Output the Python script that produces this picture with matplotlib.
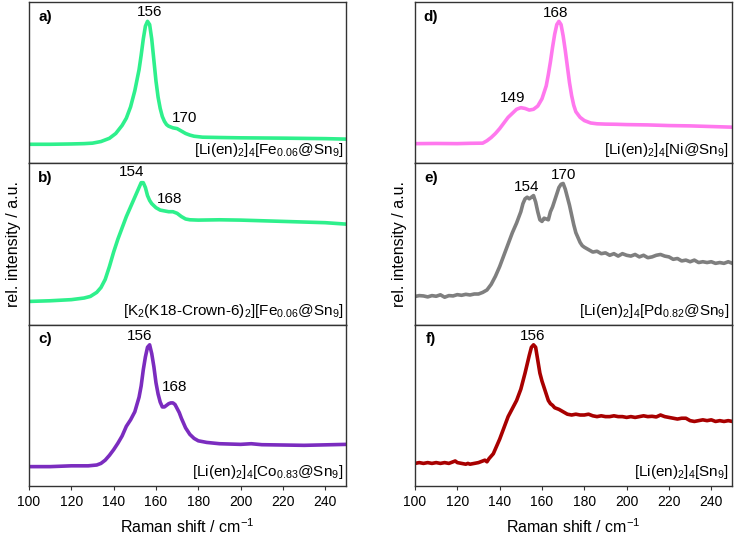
import matplotlib
matplotlib.use('Agg')
import matplotlib.pyplot as plt

plt.rcParams['font.family'] = ['Liberation Sans', 'DejaVu Sans']
plt.rcParams['mathtext.default'] = 'regular'

# Raman spectra, relative intensity
x_a = [100, 110, 120, 126, 130, 134, 138, 141, 144, 146, 148, 150, 152, 153, 154, 155, 156, 157, 158, 159,
       160, 161, 162, 163, 164, 165, 166, 168, 170, 172, 174, 176, 178, 182, 190, 200, 220, 240, 250]
y_a = [0.118, 0.118, 0.12, 0.122, 0.125, 0.135, 0.155, 0.185, 0.235, 0.28, 0.35, 0.45, 0.58, 0.67, 0.77, 0.85,
       0.88, 0.86, 0.77, 0.64, 0.51, 0.41, 0.34, 0.29, 0.26, 0.24, 0.23, 0.22, 0.215, 0.2, 0.185, 0.175, 0.168,
       0.162, 0.16, 0.158, 0.156, 0.153, 0.15]

x_b = [100, 110, 120, 126, 129, 132, 134, 136, 138, 140, 142, 144, 146, 148, 150, 152, 153, 154, 155, 156,
       157, 158, 160, 162, 164, 166, 168, 170, 172, 174, 176, 180, 190, 200, 220, 240, 250]
y_b = [0.144, 0.148, 0.155, 0.165, 0.175, 0.2, 0.23, 0.28, 0.36, 0.45, 0.53, 0.6, 0.67, 0.73, 0.79, 0.85, 0.88,
       0.88, 0.85, 0.8, 0.77, 0.75, 0.725, 0.71, 0.705, 0.7, 0.7, 0.69, 0.67, 0.655, 0.65, 0.648, 0.65, 0.648,
       0.64, 0.632, 0.623]

x_c = [100, 110, 120, 128, 132, 134, 136, 138, 140, 142, 144, 146, 148, 150, 152, 153, 154, 155, 156, 157,
       158, 159, 160, 161, 162, 163, 164, 165, 166, 167, 168, 169, 170, 171, 172, 174, 176, 178, 180, 184,
       190, 200, 205, 210, 220, 230, 240, 250]
y_c = [0.12, 0.12, 0.125, 0.125, 0.13, 0.14, 0.16, 0.19, 0.225, 0.265, 0.31, 0.37, 0.41, 0.46, 0.55, 0.62,
       0.72, 0.8, 0.86, 0.875, 0.82, 0.74, 0.64, 0.57, 0.52, 0.49, 0.49, 0.5, 0.51, 0.515, 0.515, 0.505, 0.48,
       0.455, 0.42, 0.36, 0.32, 0.295, 0.28, 0.27, 0.262, 0.258, 0.262, 0.256, 0.254, 0.252, 0.255, 0.258]

x_d = [100, 110, 120, 126, 132, 134, 136, 138, 140, 142, 144, 146, 148, 150, 152, 154, 156, 158, 160, 162,
       163, 164, 165, 166, 167, 168, 169, 170, 171, 172, 173, 174, 175, 176, 178, 180, 183, 186, 190, 195,
       200, 210, 220, 230, 240, 250]
y_d = [0.122, 0.123, 0.122, 0.124, 0.125, 0.14, 0.16, 0.185, 0.215, 0.25, 0.285, 0.31, 0.335, 0.345, 0.34,
       0.33, 0.335, 0.355, 0.4, 0.48, 0.55, 0.63, 0.72, 0.8, 0.86, 0.88, 0.86, 0.79, 0.7, 0.6, 0.5, 0.42, 0.36,
       0.32, 0.285, 0.265, 0.25, 0.245, 0.243, 0.242, 0.24, 0.238, 0.234, 0.232, 0.228, 0.224]

x_e = [100, 102, 104, 106, 108, 110, 112, 114, 116, 118, 120, 122, 124, 126, 128, 130, 132, 134, 136, 138,
       140, 142, 144, 146, 148, 150, 151, 152, 153, 154, 155, 156, 157, 158, 159, 160, 161, 162, 163, 164,
       165, 166, 167, 168, 169, 170, 171, 172, 173, 174, 175, 176, 177, 178, 179, 180, 182, 184, 186, 188,
       190, 192, 194, 196, 198, 200, 202, 204, 206, 208, 210, 212, 214, 216, 218, 220, 222, 224, 226, 228,
       230, 232, 234, 236, 238, 240, 242, 244, 246, 248, 250]
y_e = [0.175, 0.18, 0.178, 0.172, 0.18, 0.176, 0.185, 0.17, 0.18, 0.178, 0.186, 0.182, 0.188, 0.184, 0.19,
       0.19, 0.2, 0.215, 0.25, 0.3, 0.36, 0.43, 0.5, 0.57, 0.63, 0.7, 0.75, 0.78, 0.79, 0.78, 0.79, 0.8, 0.76,
       0.7, 0.65, 0.64, 0.66, 0.655, 0.65, 0.7, 0.73, 0.77, 0.81, 0.85, 0.87, 0.875, 0.84, 0.79, 0.74, 0.68,
       0.62, 0.57, 0.54, 0.51, 0.49, 0.48, 0.465, 0.45, 0.455, 0.44, 0.445, 0.43, 0.44, 0.425, 0.44, 0.43,
       0.425, 0.435, 0.42, 0.43, 0.415, 0.42, 0.43, 0.435, 0.425, 0.42, 0.405, 0.41, 0.395, 0.4, 0.39, 0.4,
       0.385, 0.39, 0.385, 0.39, 0.38, 0.385, 0.38, 0.39, 0.38]

x_f = [100, 102, 104, 106, 108, 110, 112, 114, 116, 118, 119, 120, 122, 124, 125, 126, 128, 130, 132, 133,
       134, 135, 136, 137, 138, 140, 142, 144, 146, 148, 150, 152, 154, 155, 156, 157, 158, 159, 160, 161,
       162, 163, 164, 165, 166, 168, 170, 172, 174, 176, 178, 180, 182, 184, 186, 188, 190, 192, 194, 196,
       198, 200, 202, 204, 206, 208, 210, 212, 214, 216, 218, 220, 222, 224, 226, 228, 230, 232, 234, 236,
       238, 240, 242, 244, 246, 248, 250]
y_f = [0.14, 0.145, 0.14, 0.145, 0.14, 0.145, 0.14, 0.145, 0.14, 0.15, 0.155, 0.145, 0.14, 0.135, 0.14,
       0.135, 0.14, 0.145, 0.155, 0.16, 0.15, 0.17, 0.185, 0.2, 0.23, 0.29, 0.36, 0.43, 0.48, 0.53, 0.6, 0.7,
       0.81, 0.86, 0.875, 0.86, 0.78, 0.7, 0.65, 0.61, 0.57, 0.53, 0.51, 0.5, 0.485, 0.475, 0.46, 0.445, 0.44,
       0.445, 0.44, 0.44, 0.445, 0.435, 0.43, 0.435, 0.43, 0.43, 0.435, 0.43, 0.43, 0.425, 0.43, 0.425, 0.43,
       0.435, 0.43, 0.432, 0.428, 0.44, 0.43, 0.425, 0.42, 0.415, 0.42, 0.42, 0.405, 0.4, 0.405, 0.41, 0.405,
       0.41, 0.4, 0.405, 0.4, 0.405, 0.4]

names = [r'[Li(en)$_2$]$_4$[Fe$_{0.06}$@Sn$_9$]',
         r'[K$_2$(K18-Crown-6)$_2$][Fe$_{0.06}$@Sn$_9$]',
         r'[Li(en)$_2$]$_4$[Co$_{0.83}$@Sn$_9$]',
         r'[Li(en)$_2$]$_4$[Ni@Sn$_9$]',
         r'[Li(en)$_2$]$_4$[Pd$_{0.82}$@Sn$_9$]',
         r'[Li(en)$_2$]$_4$[Sn$_9$]']
letters = ['a)', 'b)', 'c)', 'd)', 'e)', 'f)']
colors = ['#2ef08c', '#2ef08c', '#7b2cbf', '#ff78ee', '#7f7f7f', '#a80000']
xs = [x_a, x_b, x_c, x_d, x_e, x_f]
ys = [y_a, y_b, y_c, y_d, y_e, y_f]

# peak labels: (text, x, y) placed above the bands
peaks = [[('156', 157, 0.94), ('170', 173.6, 0.28)],
         [('154', 148.4, 0.946), ('168', 166.5, 0.78)],
         [('156', 152.4, 0.927), ('168', 168.9, 0.613)],
         [('168', 166.3, 0.933), ('149', 146.2, 0.405)],
         [('154', 152.9, 0.854), ('170', 170.2, 0.926)],
         [('156', 155.7, 0.927)]]

fig = plt.figure(figsize=(7.34, 5.36), dpi=100)
lefts = [0.0395, 0.5654]
width = 0.4325
h = 0.3010
bottoms = [0.6953, 0.3943, 0.0933]

for i in range(6):
    col = i // 3
    row = i % 3
    ax = fig.add_axes([lefts[col], bottoms[row], width, h])
    ax.plot(xs[i], ys[i], color=colors[i], lw=2.6, solid_capstyle='round')
    ax.set_xlim(100, 250)
    ax.set_ylim(0, 1)
    ax.set_yticks([])
    ax.set_xticks(range(100, 250, 20))
    ax.tick_params(axis='x', direction='out', length=3, width=0.8, labelsize=10, color='#333333')
    for s in ax.spines.values():
        s.set_linewidth(1.0)
        s.set_color('#333333')
    if row < 2:
        ax.tick_params(axis='x', length=0, labelbottom=False)
    else:
        ax.set_xlabel(r'Raman shift / cm$^{-1}$', fontsize=11.5, labelpad=6)
    if row == 1:
        ax.set_ylabel('rel. intensity / a.u.', fontsize=11.5, labelpad=6)
    ax.text(0.05, 0.91, letters[i], transform=ax.transAxes, fontsize=11,
            fontweight='bold', ha='center', va='center')
    ax.text(0.99, 0.085, names[i], transform=ax.transAxes, fontsize=11,
            ha='right', va='center')
    for t, px, py in peaks[i]:
        ax.text(px, py, t, fontsize=11, ha='center', va='center')

fig.savefig('out.png', dpi=100)
